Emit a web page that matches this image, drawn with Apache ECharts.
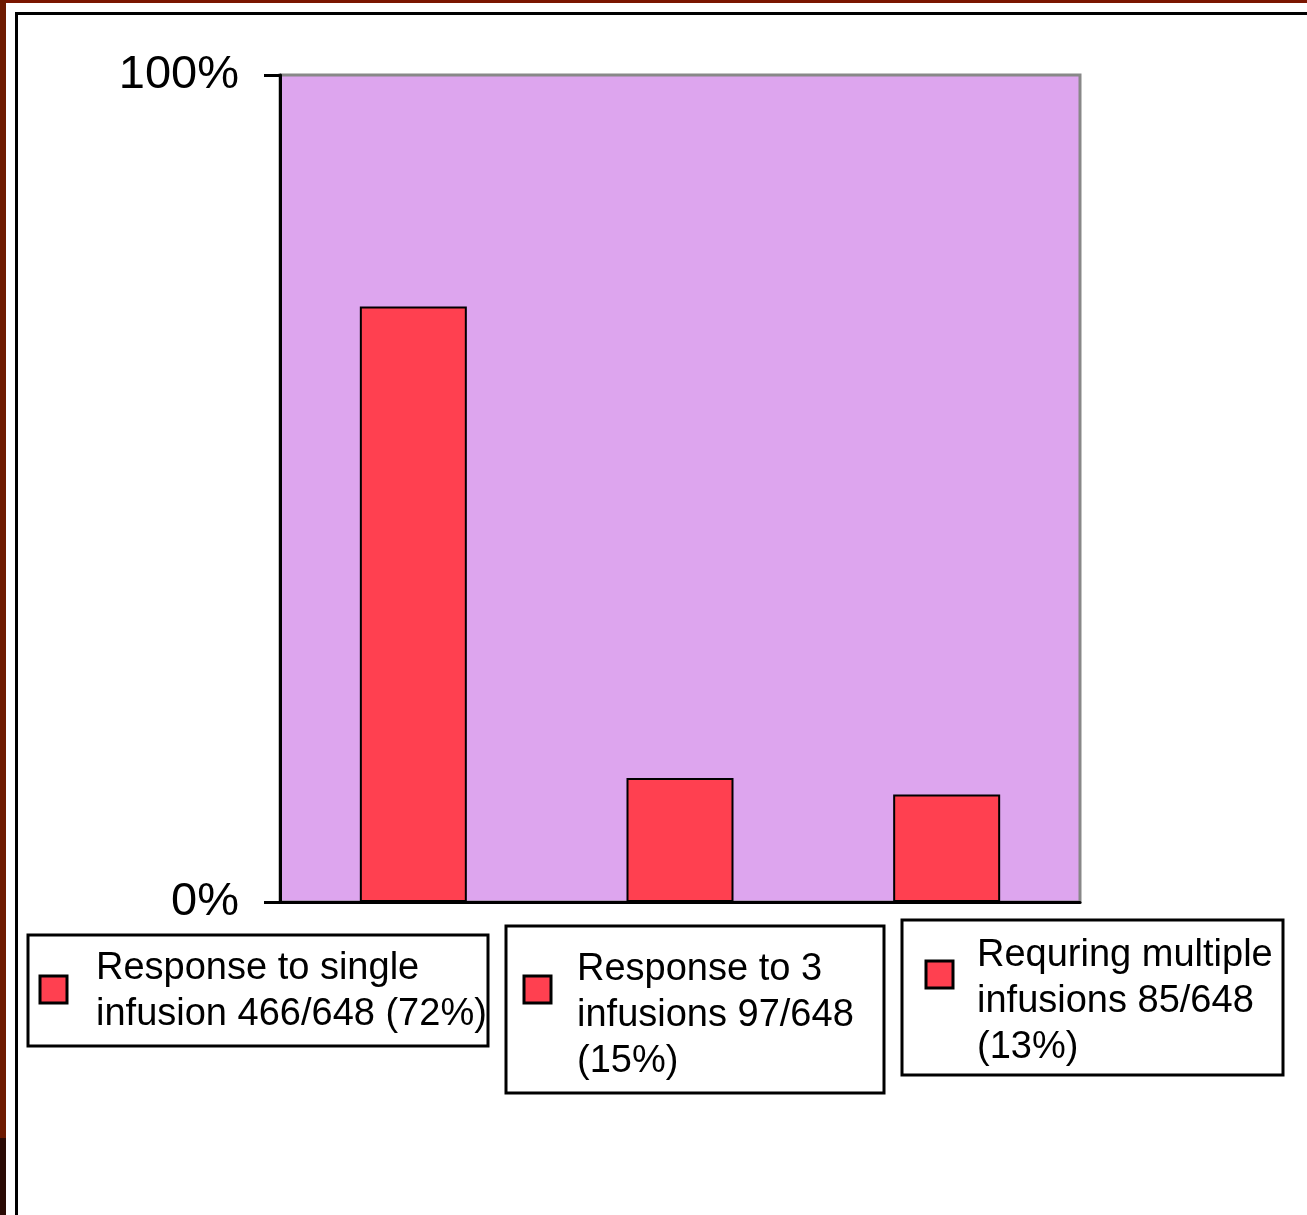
<!DOCTYPE html>
<html>
<head>
<meta charset="utf-8">
<script src="https://cdn.jsdelivr.net/npm/echarts@6/dist/echarts.min.js"></script>
<style>
html,body{margin:0;padding:0;background:#fff;}
#chart{width:1307px;height:1215px;}
</style>
</head>
<body>
<div id="chart"></div>
<script>
// ---- data ----
const categories = ['Single infusion', '3 infusions', 'Multiple infusions'];
const values = [72, 15, 13];
const yTicks = [0, 100];
const legendLines1 = ['Response to single', 'infusion 466/648 (72%)'];
const legendLines2 = ['Response to 3', 'infusions 97/648', '(15%)'];
const legendLines3 = ['Requring multiple', 'infusions 85/648', '(13%)'];

const FONT = '"Liberation Sans", Arial, sans-serif';
const BAR = '#FF4050';

function legendBox(box, icon, textPos, lines) {
  return {
    type: 'group',
    children: [
      { type: 'rect', shape: { x: box[0], y: box[1], width: box[2], height: box[3] },
        style: { fill: '#fff', stroke: '#000', lineWidth: 3 } },
      { type: 'rect', shape: { x: icon[0], y: icon[1], width: 27, height: 27 },
        style: { fill: BAR, stroke: '#000', lineWidth: 3 } },
      { type: 'text', x: textPos[0], y: textPos[1],
        style: { text: lines.join('\n'), fontSize: 38, fontFamily: FONT, fill: '#000',
                 lineHeight: 46, verticalAlign: 'top', align: 'left' } }
    ]
  };
}

const chart = echarts.init(document.getElementById('chart'));
chart.setOption({
  animation: false,
  backgroundColor: '#fff',
  grid: {
    left: 280, top: 75, right: 227, bottom: 313,
    show: true, backgroundColor: '#DDA5EE', borderColor: '#888', borderWidth: 3
  },
  xAxis: {
    type: 'category', data: categories,
    axisLine: { show: true, lineStyle: { color: '#000', width: 3 } },
    axisTick: { show: false }, axisLabel: { show: false }, splitLine: { show: false }
  },
  yAxis: {
    type: 'value', min: yTicks[0], max: yTicks[1], interval: 100,
    axisLine: { show: true, lineStyle: { color: '#000', width: 3 } },
    axisTick: { show: true, length: 16, lineStyle: { color: '#000', width: 3 } },
    splitLine: { show: false },
    axisLabel: { formatter: '{value}%', fontSize: 47, fontFamily: FONT, color: '#000', margin: 41 }
  },
  series: [{
    type: 'bar', data: values, barWidth: 107,
    itemStyle: { color: BAR, borderColor: '#000', borderWidth: 2 }
  }],
  graphic: [
    { type: 'rect', shape: { x: 0, y: 0, width: 1307, height: 3 }, style: { fill: '#7a1500' }, z: 100 },
    { type: 'rect', shape: { x: 0, y: 0, width: 6, height: 1138 }, style: { fill: '#6e1a00' }, z: 100 },
    { type: 'rect', shape: { x: 0, y: 1138, width: 6, height: 77 }, style: { fill: '#2a0a04' }, z: 100 },
    { type: 'rect', shape: { x: 15, y: 12, width: 1292, height: 3 }, style: { fill: '#000' }, z: 100 },
    { type: 'rect', shape: { x: 15, y: 12, width: 3, height: 1203 }, style: { fill: '#000' }, z: 100 },
    legendBox([28, 935, 460, 111], [40, 976], [96, 946], legendLines1),
    legendBox([506, 926, 378, 167], [524, 976], [577, 947], legendLines2),
    legendBox([902, 920, 381, 155], [926, 961], [977, 933], legendLines3)
  ]
});
</script>
</body>
</html>
